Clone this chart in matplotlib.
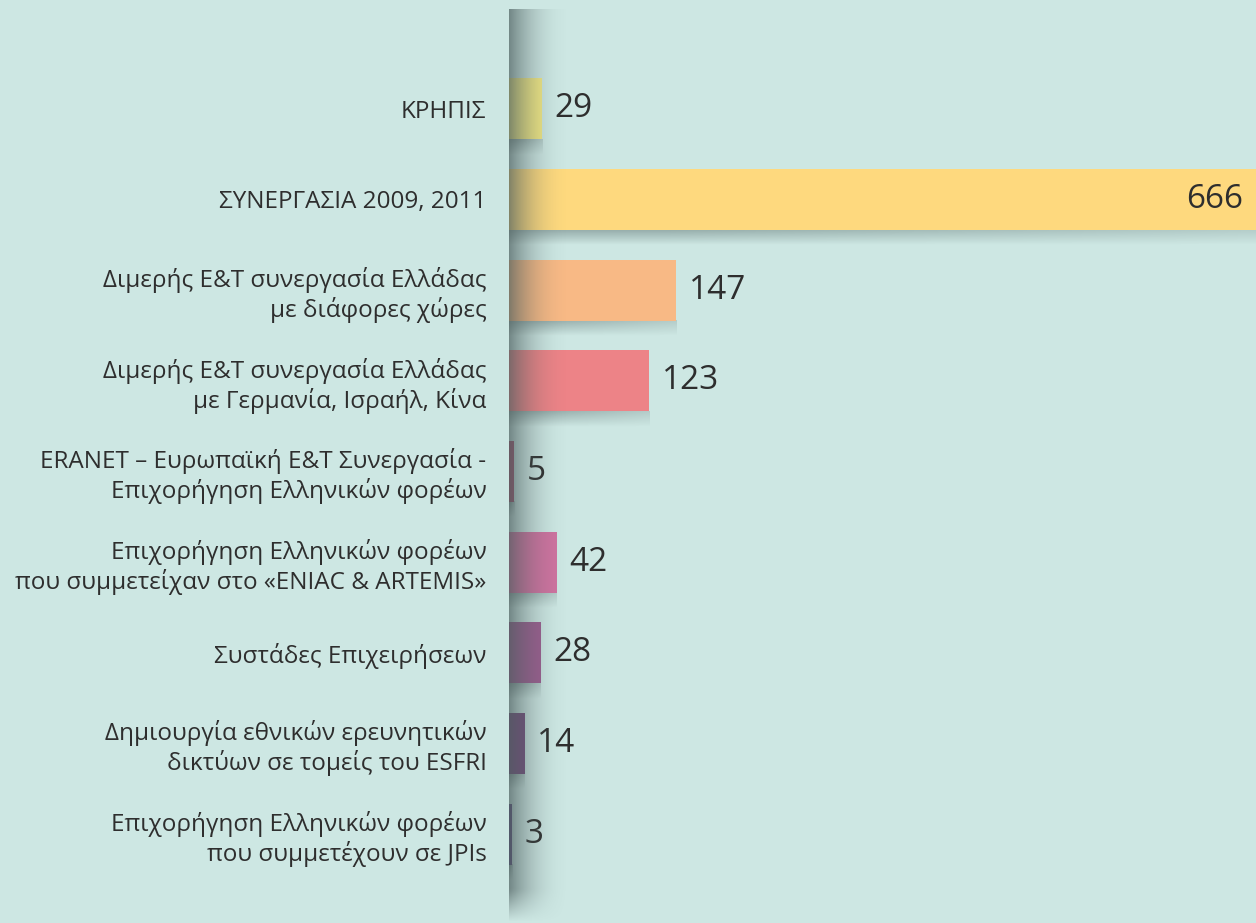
import matplotlib.pyplot as plt
import numpy as np

labels = [
    "ΚΡΗΠΙΣ",
    "ΣΥΝΕΡΓΑΣΙΑ 2009, 2011",
    "Διμερής Ε&Τ συνεργασία Ελλάδας\nμε διάφορες χώρες",
    "Διμερής Ε&Τ συνεργασία Ελλάδας\nμε Γερμανία, Ισραήλ, Κίνα",
    "ERANET – Ευρωπαϊκή Ε&Τ Συνεργασία -\nΕπιχορήγηση Ελληνικών φορέων",
    "Επιχορήγηση Ελληνικών φορέων\nπου συμμετείχαν στο «ENIAC & ARTEMIS»",
    "Συστάδες Επιχειρήσεων",
    "Δημιουργία εθνικών ερευνητικών\nδικτύων σε τομείς του ESFRI",
    "Επιχορήγηση Ελληνικών φορέων\nπου συμμετέχουν σε JPIs",
]
values = [29, 666, 147, 123, 5, 42, 28, 14, 3]
colors = ["#f3e985", "#fed97e", "#f8b985", "#ed8387", "#a8506e",
          "#cf73a0", "#9c5d90", "#764b7d", "#5f4b82"]

bg = "#cde7e3"
txt = "#2e2e2e"
plt.rcParams['font.family'] = ['Open Sans', 'DejaVu Sans']

fig = plt.figure(figsize=(12.56, 9.23), dpi=100, facecolor=bg)
ax = fig.add_axes([0.405, 0, 0.595, 1])
ax.set_facecolor(bg)

y = np.arange(len(values))
h = 0.67
xmax = 655

# drop shadows under bars
for i, v in enumerate(values):
    grad = np.linspace(0.4, 0, 30)[:, None] * np.ones((1, 50))
    fade = np.concatenate([np.ones(10), np.linspace(1, 0.45, 40)])
    img = np.zeros((30, 50, 4))
    img[..., :3] = np.array([0.25, 0.32, 0.32])
    img[..., 3] = grad * fade[None, :]
    ax.imshow(img, extent=(0, min(v, xmax), i + h / 2 + 0.17, i + h / 2),
              aspect='auto', zorder=1, interpolation='bilinear')

ax.barh(y, values, height=h, color=colors, zorder=2)

for i, v in enumerate(values):
    if v > xmax:
        ax.text(xmax - 11, i, str(v), va='center', ha='right',
                fontsize=24, color=txt, zorder=5)
    else:
        ax.text(v + 11, i, str(v), va='center', ha='left',
                fontsize=24, color=txt, zorder=5)

ax.set_yticks(y)
ax.set_yticklabels(labels, fontsize=17.5, color=txt, linespacing=1.2)
ax.tick_params(axis='y', length=0, pad=16)
ax.set_xticks([])
for s in ax.spines.values():
    s.set_visible(False)
ax.set_xlim(0, xmax)
ax.set_ylim(8.98, -1.2)

# shadow cast by the panel edge on the left
sh = fig.add_axes([0.405, 0, 0.05, 0.99], zorder=3)
nx, ny = 80, 300
xs = np.linspace(0, 1, nx)
ys = np.linspace(0, 1, ny)
ax_a = 0.7 * (1 - xs) ** 2.2
top = np.clip((1 - ys) / 0.035, 0, 1)
img = np.zeros((ny, nx, 4))
img[..., :3] = np.array([0.30, 0.37, 0.37])
img[..., 3] = top[:, None] * ax_a[None, :]
sh.imshow(img, aspect='auto', interpolation='bilinear', extent=(0, 1, 0, 1))
sh.set_axis_off()

fig.savefig("out.png", dpi=100, facecolor=bg)
